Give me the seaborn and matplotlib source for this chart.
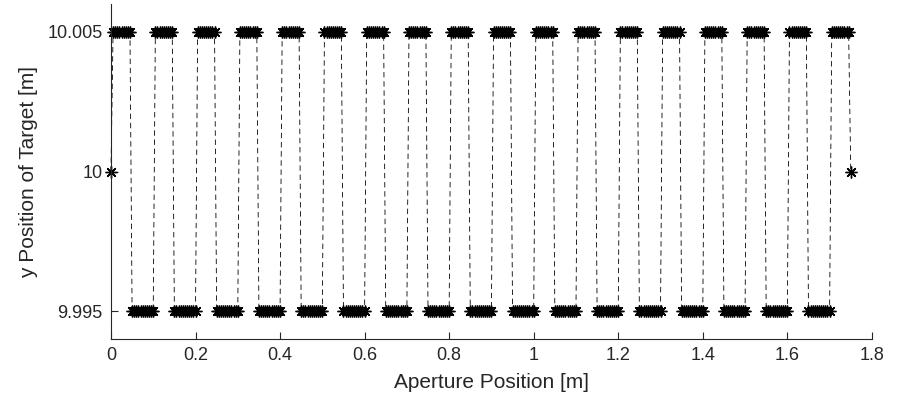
import numpy as np
import pandas as pd
import matplotlib
matplotlib.use("Agg")
import matplotlib.pyplot as plt
import seaborn as sns
from matplotlib.ticker import FixedLocator, FixedFormatter

# Target y position recorded along the synthetic aperture [m]
sample_step = 0.005
y_high, y_mid, y_low = 10.005, 10.0, 9.995

# Single samples at the two ends of the aperture
end_x = [0.0, 1.75]
end_y = [10.0, 10.0]

# Upper plateaus (start / stop of each run of samples)
high_start = [0.005, 0.105, 0.205, 0.305, 0.405, 0.505, 0.605, 0.705, 0.805,
              0.905, 1.005, 1.105, 1.205, 1.305, 1.405, 1.505, 1.605, 1.705]
high_stop = [0.045, 0.145, 0.245, 0.345, 0.445, 0.545, 0.645, 0.745, 0.845,
             0.945, 1.045, 1.145, 1.245, 1.345, 1.445, 1.545, 1.645, 1.745]

# Lower plateaus
low_start = [0.050, 0.150, 0.250, 0.350, 0.450, 0.550, 0.650, 0.750, 0.850,
             0.950, 1.050, 1.150, 1.250, 1.350, 1.450, 1.550, 1.650]
low_stop = [0.100, 0.200, 0.300, 0.400, 0.500, 0.600, 0.700, 0.800, 0.900,
            1.000, 1.100, 1.200, 1.300, 1.400, 1.500, 1.600, 1.700]

x_ticks = [0, 0.2, 0.4, 0.6, 0.8, 1.0, 1.2, 1.4, 1.6, 1.8]
x_tick_labels = ["0", "0.2", "0.4", "0.6", "0.8", "1", "1.2", "1.4", "1.6", "1.8"]
y_ticks = [9.995, 10.0, 10.005]
y_tick_labels = ["9.995", "10", "10.005"]


def runs(starts, stops, level):
    xs, ys = [], []
    for a, b in zip(starts, stops):
        n = int(round((b - a) / sample_step)) + 1
        seg = a + sample_step * np.arange(n)
        xs.append(seg)
        ys.append(np.full(n, level))
    return np.concatenate(xs), np.concatenate(ys)


hx, hy = runs(high_start, high_stop, y_high)
lx, ly = runs(low_start, low_stop, y_low)
df = pd.DataFrame({
    "x": np.concatenate([end_x, hx, lx]),
    "y": np.concatenate([end_y, hy, ly]),
}).sort_values("x").reset_index(drop=True)

sns.set_theme(style="white")
plt.rcParams["font.family"] = ["Liberation Sans", "DejaVu Sans"]
text_col = "#262626"

fig, ax = plt.subplots(figsize=(8.97, 3.99), dpi=100)
fig.subplots_adjust(left=0.1237, right=0.972, bottom=0.150, top=0.990)

sns.lineplot(data=df, x="x", y="y", ax=ax, sort=False, estimator=None,
             color="black", linestyle="--", linewidth=0.6,
             marker=(8, 2, 0), markersize=8.5, markeredgewidth=1.0,
             markeredgecolor="black", markerfacecolor="black", clip_on=False)
ax.lines[0].set_dashes([6.5, 4.5])

ax.set_xlim(0, 1.8)
ax.set_ylim(9.994, 10.006)
ax.xaxis.set_major_locator(FixedLocator(x_ticks))
ax.xaxis.set_major_formatter(FixedFormatter(x_tick_labels))
ax.yaxis.set_major_locator(FixedLocator(y_ticks))
ax.yaxis.set_major_formatter(FixedFormatter(y_tick_labels))

for side in ("top", "right"):
    ax.spines[side].set_visible(False)
for side in ("left", "bottom"):
    ax.spines[side].set_color(text_col)
    ax.spines[side].set_linewidth(0.8)

ax.tick_params(axis="both", which="major", direction="in", length=5,
               width=0.8, color=text_col, labelcolor=text_col,
               labelsize=13, left=True, bottom=True, pad=6)

ax.set_xlabel("Aperture Position [m]", fontsize=15, color=text_col, labelpad=6)
ax.set_ylabel("y Position of Target [m]", fontsize=15, color=text_col, labelpad=7)

fig.savefig("out.png", dpi=100)
